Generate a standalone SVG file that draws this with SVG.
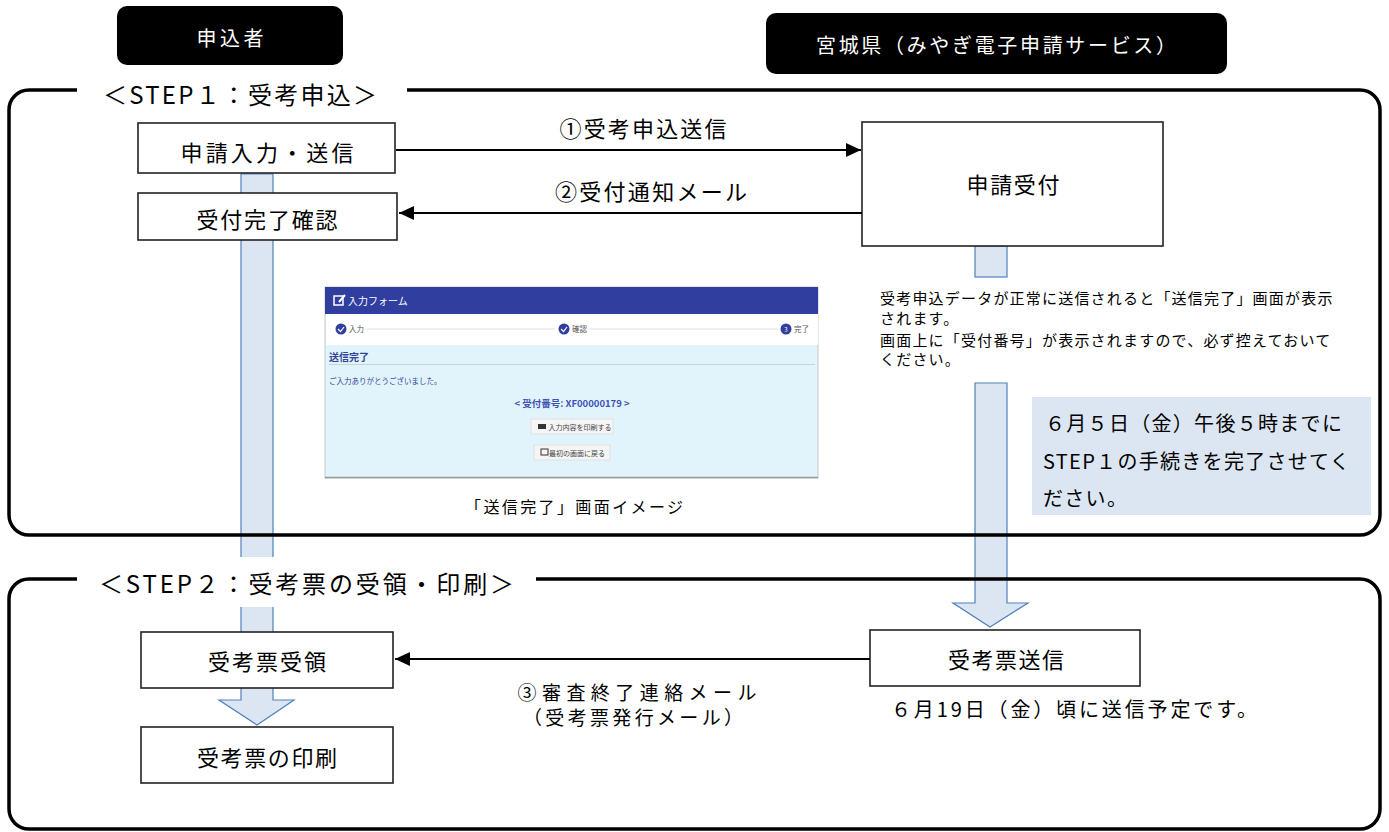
<svg xmlns="http://www.w3.org/2000/svg" width="1389" height="832" viewBox="0 0 1389 832">
<style>
text{font-family:"Noto Sans CJK JP","Liberation Sans",sans-serif;fill:#000}
.hdr{fill:#000}
.hdrt{fill:#fff;font-size:20px;text-anchor:middle;dominant-baseline:central}
.frame{fill:none;stroke:#000;stroke-width:3.5}
.box{fill:#fff;stroke:#222;stroke-width:1.6}
.bt{font-size:22px;text-anchor:middle;dominant-baseline:central}
.lbl{font-size:22px;text-anchor:middle;dominant-baseline:central}
.step{font-size:24px;dominant-baseline:central}
.bar{fill:#dce6f2;stroke:#4f81bd;stroke-width:1.2}
.conn{stroke:#000;stroke-width:2;fill:none}
.note{font-size:15px;letter-spacing:1.2px}
.big{font-size:20px;letter-spacing:1.3px;dominant-baseline:central}
.ss{font-family:"Noto Sans CJK JP","Liberation Sans",sans-serif}
</style>
<defs>
<marker id="ah" markerUnits="userSpaceOnUse" markerWidth="16" markerHeight="14" refX="15" refY="7" orient="auto">
<path d="M0,0 L15,7 L0,14 z" fill="#000"/>
</marker>
</defs>
<rect width="1389" height="832" fill="#fff"/>

<!-- headers -->
<g id="hdr-applicant">
<rect class="hdr" x="117" y="6" width="226" height="59" rx="10"/>
<text class="hdrt" x="230" y="37" textLength="67">申込者</text>
</g>
<g id="hdr-miyagi">
<rect class="hdr" x="766" y="13" width="461" height="61" rx="10"/>
<text class="hdrt" x="996" y="44" textLength="360">宮城県（みやぎ電子申請サービス）</text>
</g>

<!-- flow bars -->
<g id="flow-bars">
<polygon class="bar" points="241,174 273,174 273,700 294,700 257,725 219,700 241,700"/>
<rect class="bar" x="975" y="246" width="32" height="31"/>
<polygon class="bar" points="975,383 1007,383 1007,603 1028,603 990,627 953,603 975,603"/>
</g>

<!-- step frames -->
<g id="step1-frame">
<rect class="frame" x="9" y="90" width="1371" height="445" rx="20"/>
<rect x="77" y="75" width="330" height="32" fill="#fff"/>
<text class="step" x="103" y="93" textLength="274">＜STEP１：受考申込＞</text>
</g>
<g id="step2-frame">
<rect class="frame" x="9" y="579" width="1371" height="250" rx="20"/>
<rect x="77" y="557" width="459" height="50" fill="#fff"/>
<text class="step" x="99" y="582" textLength="415">＜STEP２：受考票の受領・印刷＞</text>
</g>

<!-- nodes -->
<g id="n-input">
<rect class="box" x="138" y="123" width="257" height="50"/>
<text class="bt" x="267" y="151" textLength="173">申請入力・送信</text>
</g>
<g id="n-confirm">
<rect class="box" x="138" y="193" width="259" height="47"/>
<text class="bt" x="267" y="218" textLength="141">受付完了確認</text>
</g>
<g id="n-accept">
<rect class="box" x="862" y="122" width="301" height="124"/>
<text class="bt" x="1013" y="183" textLength="93">申請受付</text>
</g>
<g id="n-receive">
<rect class="box" x="141" y="632" width="252" height="56"/>
<text class="bt" x="267" y="660" textLength="118">受考票受領</text>
</g>
<g id="n-print">
<rect class="box" x="141" y="727" width="252" height="56"/>
<text class="bt" x="267" y="756" textLength="140">受考票の印刷</text>
</g>
<g id="n-send">
<rect class="box" x="870" y="630" width="270" height="56"/>
<text class="bt" x="1006" y="658" textLength="116">受考票送信</text>
</g>

<!-- connectors -->
<g id="connectors">
<line class="conn" x1="396" y1="150" x2="861" y2="150" marker-end="url(#ah)"/>
<line class="conn" x1="862" y1="213" x2="399" y2="213" marker-end="url(#ah)"/>
<line class="conn" x1="870" y1="659" x2="395" y2="659" marker-end="url(#ah)"/>
<text class="lbl" x="643" y="127" textLength="167">①受考申込送信</text>
<text class="lbl" x="651" y="190" textLength="192">②受付通知メール</text>
<text class="lbl" x="637" y="691" style="font-size:19px" textLength="239">③審査終了連絡メール</text>
<text class="lbl" x="633" y="716" style="font-size:19px" textLength="220">（受考票発行メール）</text>
</g>

<!-- notes -->
<g id="note-small">
<text class="note" x="880" y="304">受考申込データが正常に送信されると「送信完了」画面が表示</text>
<text class="note" x="880" y="324">されます。</text>
<text class="note" x="880" y="346">画面上に「受付番号」が表示されますので、必ず控えておいて</text>
<text class="note" x="880" y="365">ください。</text>
</g>
<g id="note-deadline">
<rect x="1032" y="397" width="339" height="118" fill="#dce6f2"/>
<text class="big" x="1045" y="422">６月５日（金）午後５時までに</text>
<text class="big" x="1043" y="460">STEP１の手続きを完了させてく</text>
<text class="big" x="1043" y="497">ださい。</text>
</g>
<g id="note-date">
<text class="lbl" x="1074" y="708" style="font-size:20px" textLength="366">６月19日（金）頃に送信予定です。</text>
</g>

<!-- screenshot image -->
<g id="screenshot" class="ss">
<rect x="325" y="287" width="493" height="191" fill="#e1f4fc" stroke="#c9c9c9" stroke-width="1"/>
<line x1="325" y1="477.5" x2="818" y2="477.5" stroke="#999" stroke-width="1.5"/>
<rect x="325" y="287" width="493" height="27" fill="#303f9f"/>
<rect x="326" y="314" width="492" height="31" fill="#fff"/>
<rect x="334" y="296" width="9" height="9" fill="none" stroke="#fff" stroke-width="1.5"/>
<path d="M339,302 L345,295" stroke="#fff" stroke-width="2"/>
<text x="348" y="305" style="font-size:10px;fill:#fff">入力フォーム</text>
<line x1="367" y1="329" x2="555" y2="329" stroke="#ddd" stroke-width="1"/>
<line x1="590" y1="329" x2="778" y2="329" stroke="#ddd" stroke-width="1"/>
<circle cx="341" cy="329" r="5.5" fill="#303f9f"/>
<path d="M338,329 L340.5,331.5 L344,327" stroke="#fff" stroke-width="1.2" fill="none"/>
<text x="349" y="332" style="font-size:7.5px;fill:#555">入力</text>
<circle cx="564" cy="329" r="5.5" fill="#303f9f"/>
<path d="M561,329 L563.5,331.5 L567,327" stroke="#fff" stroke-width="1.2" fill="none"/>
<text x="572" y="332" style="font-size:7.5px;fill:#555">確認</text>
<circle cx="786" cy="329" r="5.5" fill="#303f9f"/>
<text x="786" y="331.5" style="font-size:6px;fill:#fff;text-anchor:middle">3</text>
<text x="794" y="332" style="font-size:7.5px;fill:#555">完了</text>
<text x="329" y="361" style="font-size:10px;font-weight:bold;fill:#34449a">送信完了</text>
<line x1="329" y1="364.5" x2="815" y2="364.5" stroke="#c5d3da" stroke-width="1"/>
<text x="329" y="384" style="font-size:7.5px;fill:#34449a">ご入力ありがとうございました。</text>
<text x="572" y="407" style="font-size:9.5px;font-weight:bold;fill:#3f51b5;text-anchor:middle">&lt; 受付番号: XF00000179 &gt;</text>
<rect x="531" y="419" width="82" height="15" fill="#f5f5f5" stroke="#ddd" stroke-width="0.8"/>
<rect x="538" y="424" width="8" height="5" fill="#333"/>
<text x="580" y="430" style="font-size:7px;fill:#444;text-anchor:middle">入力内容を印刷する</text>
<rect x="534" y="445" width="76" height="15" fill="#f5f5f5" stroke="#ddd" stroke-width="0.8"/>
<rect x="541" y="449" width="7" height="6" fill="none" stroke="#333" stroke-width="1"/>
<text x="577" y="456" style="font-size:7px;fill:#444;text-anchor:middle">最初の画面に戻る</text>
</g>
<g id="caption">
<text x="574" y="506" style="font-size:16px;text-anchor:middle;dominant-baseline:central" textLength="218">「送信完了」画面イメージ</text>
</g>
</svg>
